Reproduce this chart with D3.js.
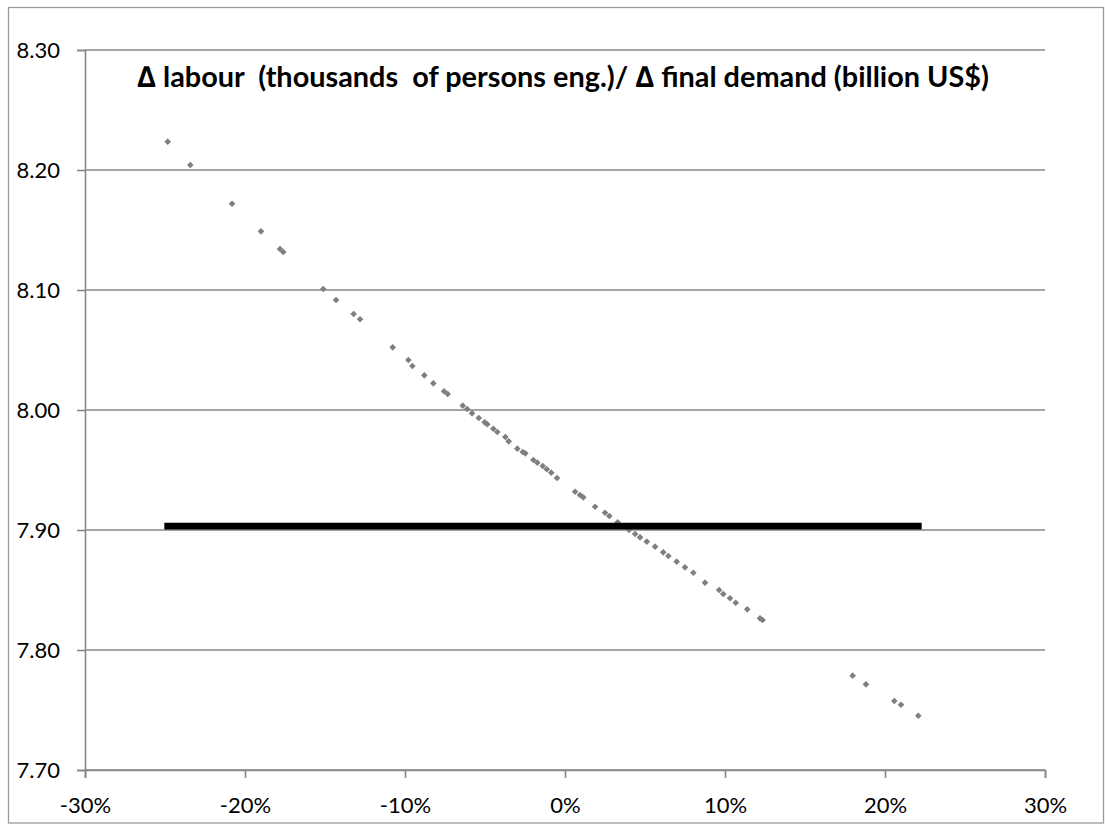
<!DOCTYPE html>
<html><head><meta charset="utf-8">
<script src="https://cdn.jsdelivr.net/npm/d3@7"></script>
<style>
html,body{margin:0;padding:0;background:#fff;}
svg{display:block;}
text{font-family:Lato,"Open Sans",sans-serif;fill:#000;}
</style></head>
<body><svg id="chart" width="1105" height="826"></svg>
<script>
// ---- data ----
const titleText = "\u2206 labour  (thousands  of persons eng.)/ \u2206 final demand (billion US$)";
const xTicks = [-0.30, -0.20, -0.10, 0, 0.10, 0.20, 0.30];
const yTicks = [7.70, 7.80, 7.90, 8.00, 8.10, 8.20, 8.30];
// scatter series: change in final demand (%) vs ratio
const pointX = [-24.83,-23.42,-20.81,-19.00,-17.81,-17.61,-15.11,-14.31,-13.21,-12.81,
  -10.77,-9.79,-9.54,-8.79,-8.23,-7.56,-7.33,-6.39,-6.11,-5.81,-5.39,-5.02,-4.86,-4.48,-4.23,
  -3.73,-3.52,-2.98,-2.64,-2.48,-1.98,-1.73,-1.39,-1.14,-0.86,-0.50,0.63,0.94,1.14,1.88,2.50,
  2.77,3.29,4.00,4.38,4.69,5.11,5.63,6.14,6.46,6.98,7.50,8.02,8.75,9.63,9.89,10.31,10.67,
  11.39,12.19,12.35,17.98,18.81,20.58,21.00,22.08];
const pointY = [8.2236,8.2042,8.1719,8.1489,8.1342,8.1317,8.1008,8.0917,8.0800,8.0756,
  8.0522,8.0417,8.0367,8.0289,8.0222,8.0156,8.0133,8.0036,8.0008,7.9972,7.9933,7.9897,7.9881,7.9844,7.9817,
  7.9775,7.9739,7.9678,7.9650,7.9639,7.9583,7.9561,7.9533,7.9506,7.9478,7.9433,7.9319,7.9292,7.9272,7.9194,7.9144,
  7.9117,7.9064,7.9000,7.8967,7.8939,7.8903,7.8861,7.8814,7.8783,7.8736,7.8689,7.8644,7.8561,7.8500,7.8467,7.8431,7.8394,
  7.8339,7.8264,7.8250,7.7786,7.7714,7.7575,7.7544,7.7452];
// reference (baseline) line series
const lineX = [-24.83, 22.08];
const lineY = [7.9033, 7.9033];

// ---- layout ----
const svg = d3.select("#chart");
const L = 85, R = 1045, T = 50, B = 770;
const x = d3.scaleLinear().domain([-0.30, 0.30]).range([L, R]);
const y = d3.scaleLinear().domain([7.70, 8.30]).range([B, T]);

// outer border
svg.append("rect").attr("x", 8.5).attr("y", 7.5).attr("width", 1095).attr("height", 815.5)
  .attr("fill", "none").attr("stroke", "#9a9a9a").attr("stroke-width", 1.3);

// gridlines
svg.append("g").selectAll("line").data(yTicks).join("line")
  .attr("x1", L).attr("x2", R).attr("y1", d => y(d)).attr("y2", d => y(d))
  .attr("stroke", "#878787").attr("stroke-width", 1.6);

// axes
const yAxis = d3.axisLeft(y).tickValues(yTicks).tickSize(8).tickPadding(17).tickFormat(d3.format(".2f"));
const gy = svg.append("g").attr("transform", `translate(${L},0)`).call(yAxis);
const xAxis = d3.axisBottom(x).tickValues(xTicks).tickSize(8).tickPadding(19).tickFormat(d3.format(".0%"));
const gx = svg.append("g").attr("transform", `translate(0,${B})`).call(xAxis);
[gx, gy].forEach(g => {
  g.select(".domain").attr("stroke", "#878787").attr("stroke-width", 1.6);
  g.selectAll(".tick line").attr("stroke", "#878787").attr("stroke-width", 1.6);
  g.selectAll("text").attr("font-family", "Lato, 'Open Sans', sans-serif").attr("font-size", 22).attr("fill", "#000");
});
gx.selectAll(".tick text").text(d => d3.format(".0%")(d).replace("\u2212", "-"));
gy.selectAll(".tick text").text(d => d3.format(".2f")(d));

// scatter points
const pts = pointX.map((v, i) => ({x: v / 100, y: pointY[i]}));
const diamond = d3.symbol().type(d3.symbolDiamond2).size(28);
svg.append("g").selectAll("path").data(pts).join("path")
  .attr("d", diamond)
  .attr("transform", d => `translate(${x(d.x)},${y(d.y)})`)
  .attr("fill", "#7f7f7f");

// black baseline line
const lineData = lineX.map((v, i) => [v / 100, lineY[i]]);
svg.append("path").datum(lineData)
  .attr("d", d3.line().x(d => x(d[0])).y(d => y(d[1])))
  .attr("stroke", "#000").attr("stroke-width", 6.8).attr("stroke-linecap", "square").attr("fill", "none");

// title
const title = svg.append("text").attr("x", 563).attr("y", 87).attr("text-anchor", "middle")
  .attr("font-weight", "bold").attr("font-size", 21).style("white-space", "pre")
  .attr("xml:space", "preserve").text(titleText);
const w = title.node().getComputedTextLength();
title.attr("font-size", 21 * 852 / w);
</script>
</body></html>
